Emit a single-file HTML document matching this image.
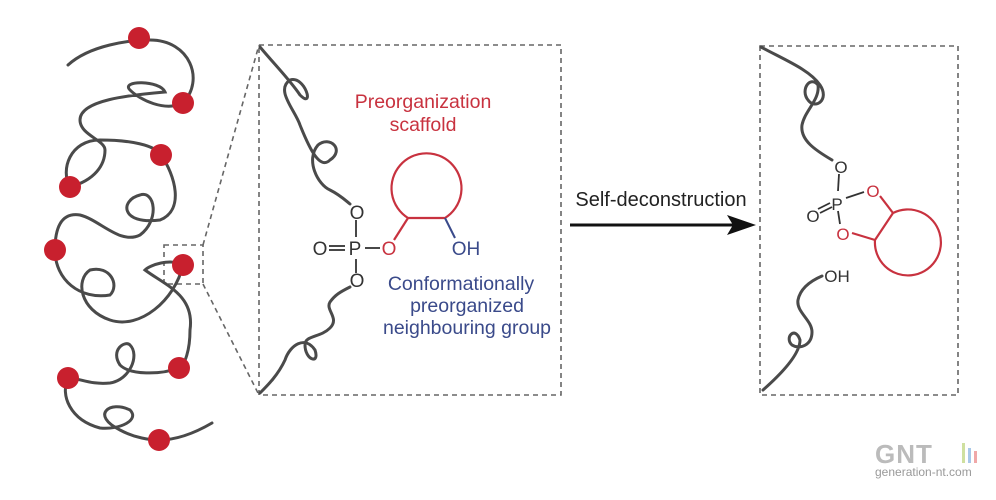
<!DOCTYPE html>
<html><head><meta charset="utf-8"><style>
html,body{margin:0;padding:0;background:#fff;}
svg{display:block;}
text{font-family:"Liberation Sans",Arial,sans-serif;}
</style></head><body>
<svg width="996" height="500" viewBox="0 0 996 500" xmlns="http://www.w3.org/2000/svg">
<g fill="none" stroke="#666" stroke-width="1.6" stroke-dasharray="5,4">
<rect x="164" y="245" width="39" height="39"/>
<line x1="203" y1="245" x2="259" y2="45"/>
<line x1="203" y1="284" x2="259" y2="395"/>
<rect x="259" y="45" width="302" height="350"/>
<rect x="760" y="46" width="198" height="349"/>
</g>
<g fill="none" stroke="#4a4a4a" stroke-width="3" stroke-linecap="round">
<path d="M68,65 C90,45 130,40 150,40 C190,40 205,80 183,103 C165,112 140,100 130,90 C120,80 160,80 165,92 C130,95 80,100 80,120 C80,135 105,140 105,150 C105,165 95,180 70,187 C60,170 70,140 100,140 C130,140 155,145 161,155 C175,175 185,210 160,220 C120,225 120,200 140,195 C155,190 160,220 140,235 C120,245 100,220 80,215 C60,212 55,230 55,250 C55,280 80,300 110,295 C120,285 110,265 90,270 C75,280 80,310 110,320 C140,330 175,300 183,265 C170,258 150,265 145,270 C165,285 195,295 190,330 C190,350 185,365 179,368 C160,375 130,375 120,365 C110,350 125,340 130,345 C140,355 130,380 110,383 C90,385 80,378 68,378 C60,395 70,420 100,428 C120,430 140,420 130,410 C110,400 90,415 120,430 C135,438 150,440 159,440 C180,440 200,430 212,423"/>
<path d="M260,47 C275,65 290,80 300,95 C315,110 305,75 290,80 C275,90 295,110 300,125 C310,150 320,170 330,160 C345,150 330,135 318,145 C305,160 318,185 330,190 C340,195 345,200 350,204"/>
<path d="M350,287 C340,292 335,295 330,302 C325,310 340,318 330,328 C320,338 305,335 305,345 C305,360 320,365 315,350 C305,335 290,345 285,360 C278,375 268,385 260,393"/>
<path d="M761,47 C785,60 810,70 820,85 C830,100 815,110 808,100 C800,90 810,75 818,85 C820,100 805,110 802,125 C800,140 815,150 832,160"/>
<path d="M822,276 C808,282 800,290 798,300 C796,312 812,320 812,332 C812,345 800,350 792,345 C784,338 795,325 800,340 C800,355 780,375 763,390"/>
</g>
<g fill="#c8202e">
<circle cx="139" cy="38" r="11"/><circle cx="183" cy="103" r="11"/><circle cx="161" cy="155" r="11"/>
<circle cx="70" cy="187" r="11"/><circle cx="55" cy="250" r="11"/><circle cx="183" cy="265" r="11"/>
<circle cx="179" cy="368" r="11"/><circle cx="68" cy="378" r="11"/><circle cx="159" cy="440" r="11"/>
</g>
<g fill="none" stroke="#c8323f" stroke-width="2.2">
<path d="M408,218 A35,35 0 1 1 445,218 Z"/>
<line x1="408" y1="218" x2="394" y2="240"/>
</g>
<line x1="445" y1="218" x2="455" y2="238" stroke="#3a4a8a" stroke-width="2"/>
<g stroke="#333" stroke-width="1.8">
<line x1="356" y1="220" x2="356" y2="237"/><line x1="356" y1="259" x2="356" y2="273"/>
<line x1="329" y1="246" x2="345" y2="246"/><line x1="329" y1="250" x2="345" y2="250"/>
<line x1="365" y1="248" x2="380" y2="248"/>
</g>
<g font-size="19" fill="#333" text-anchor="middle">
<text x="357" y="219">O</text><text x="355" y="255">P</text><text x="320" y="255">O</text><text x="357" y="287">O</text>
</g>
<text x="389" y="255" font-size="19" fill="#c8323f" text-anchor="middle">O</text>
<text x="466" y="255" font-size="19" fill="#3a4a8a" text-anchor="middle">OH</text>
<g font-size="19.5" fill="#c8323f" text-anchor="middle">
<text x="423" y="108">Preorganization</text><text x="423" y="131">scaffold</text>
</g>
<g font-size="19.5" fill="#3a4a8a" text-anchor="middle">
<text x="461" y="290">Conformationally</text><text x="467" y="312">preorganized</text><text x="467" y="334">neighbouring group</text>
</g>
<text x="661" y="206" font-size="20" fill="#222" text-anchor="middle">Self-deconstruction</text>
<line x1="570" y1="225" x2="735" y2="225" stroke="#111" stroke-width="3"/>
<polygon points="756,225 727,215 733,225 727,235" fill="#111"/>
<g fill="none" stroke="#c8323f" stroke-width="2.2">
<path d="M893,213 A33,33 0 1 1 875,240 Z"/>
<line x1="893" y1="213" x2="880" y2="196"/>
<line x1="875" y1="240" x2="852" y2="233"/>
</g>
<g stroke="#333" stroke-width="1.8">
<line x1="839" y1="174" x2="838" y2="191"/><line x1="838" y1="211" x2="840" y2="224"/>
<line x1="846" y1="198" x2="864" y2="192"/>
<line x1="818" y1="209" x2="830" y2="203"/><line x1="820" y1="213" x2="832" y2="207"/>
</g>
<g font-size="17" fill="#333" text-anchor="middle">
<text x="841" y="173">O</text><text x="837" y="210">P</text><text x="813" y="222">O</text><text x="837" y="282">OH</text>
</g>
<g font-size="17" fill="#c8323f" text-anchor="middle">
<text x="873" y="197">O</text><text x="843" y="240">O</text>
</g>
<text x="875" y="463" font-size="26" fill="#bbb" font-weight="bold" letter-spacing="1">GNT</text>
<rect x="962" y="443" width="3" height="20" fill="#cfe0a0"/><rect x="968" y="448" width="3" height="15" fill="#a8c8e8"/><rect x="974" y="451" width="3" height="12" fill="#f0a8a8"/>
<text x="875" y="476" font-size="12" fill="#999">generation-nt.com</text>
</svg>
</body></html>
